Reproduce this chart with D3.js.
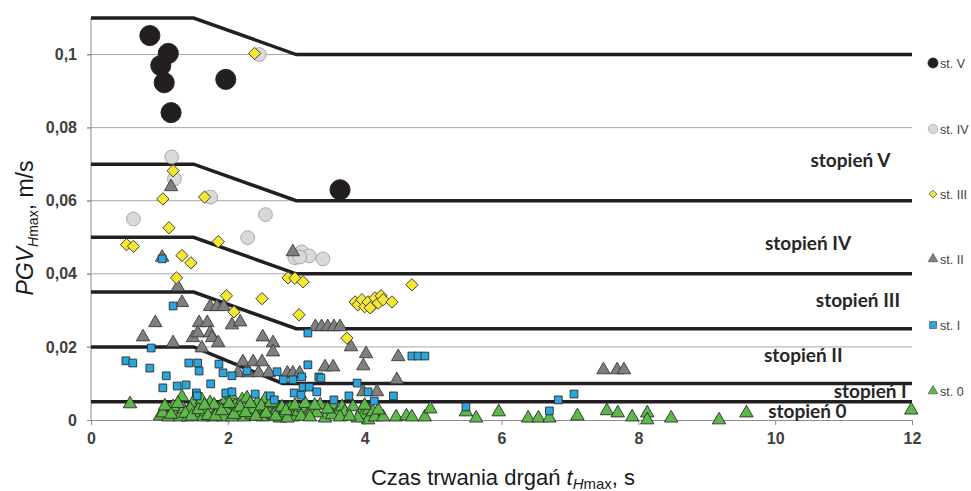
<!DOCTYPE html>
<html>
<head>
<meta charset="utf-8">
<script src="https://cdn.jsdelivr.net/npm/d3@7"></script>
<style>
  body { margin: 0; background: #fff; }
  svg { display: block; }
</style>
</head>
<body>
<svg id="root"></svg>
<script>
// axes
const xTicks = [0, 2, 4, 6, 8, 10, 12];
const yTicks = [0, 0.02, 0.04, 0.06, 0.08, 0.1];

// boundary lines between classes (t, PGV)
const limitLines = [
  [[0, 0.11], [1.5, 0.11], [3, 0.1], [12, 0.1]],
  [[0, 0.07], [1.5, 0.07], [3, 0.06], [12, 0.06]],
  [[0, 0.05], [1.5, 0.05], [3, 0.04], [12, 0.04]],
  [[0, 0.035], [1.5, 0.035], [3, 0.025], [12, 0.025]],
  [[0, 0.02], [1.5, 0.02], [2.8, 0.01], [12, 0.01]],
  [[0, 0.005], [12, 0.005]]
];

const zoneNames = ["stopień V", "stopień IV", "stopień III", "stopień II", "stopień I", "stopień 0"];
const zoneLabelAt = [[11.1, 0.0692], [10.48, 0.0466], [11.21, 0.031], [10.41, 0.0159], [11.39, 0.006], [10.47, 0.0005]];

const legendNames = ["st. V", "st. IV", "st. III", "st. II", "st. I", "st. 0"];

// st. V
const st5 = [[0.86, 0.1052], [1.13, 0.1003], [1.02, 0.097], [1.07, 0.0923], [1.17, 0.0841], [1.97, 0.0932], [3.64, 0.063]];

// st. IV
const st4 = [[2.46, 0.1], [1.18, 0.072], [1.22, 0.066], [1.75, 0.061], [0.62, 0.055], [2.55, 0.0562],
  [2.29, 0.0499], [3.08, 0.046], [2.98, 0.0444], [3.19, 0.0449], [3.39, 0.0441], [3.05, 0.0446]];

// st. III
const st3 = [[2.39, 0.1003], [1.2, 0.0682], [1.05, 0.0605], [1.66, 0.061], [1.14, 0.0526],
  [0.52, 0.048], [0.62, 0.0475], [1.86, 0.0488], [1.33, 0.045], [1.46, 0.043], [1.25, 0.0389],
  [1.98, 0.034], [2.5, 0.0332], [2.88, 0.0389], [2.98, 0.0388], [3.1, 0.0378], [3.04, 0.0288],
  [2.09, 0.0296], [3.74, 0.0224], [4.69, 0.037],
  [3.86, 0.0323], [3.9, 0.0315], [3.96, 0.0329], [4.0, 0.031], [4.05, 0.0323], [4.11, 0.0312],
  [4.15, 0.0334], [4.2, 0.032], [4.24, 0.034], [4.27, 0.0329], [4.4, 0.0323], [4.08, 0.0307]];

// st. II
const st2 = [[1.17, 0.0638], [1.04, 0.0445], [2.95, 0.046], [1.27, 0.0364], [1.33, 0.0321],
  [0.94, 0.0266], [0.76, 0.0227], [1.2, 0.0211], [1.49, 0.0225], [1.58, 0.0266], [1.7, 0.0266],
  [1.56, 0.0238], [1.74, 0.0238], [1.77, 0.0225], [1.62, 0.0197], [1.86, 0.0211],
  [1.74, 0.031], [1.84, 0.031], [1.94, 0.031], [2.06, 0.026], [2.18, 0.0268],
  [2.51, 0.0227], [2.66, 0.0211], [2.66, 0.0186], [2.22, 0.0159], [2.37, 0.0159], [2.5, 0.0159],
  [3.42, 0.0145], [3.54, 0.0145], [3.28, 0.0255], [3.37, 0.0255], [3.46, 0.0255], [3.55, 0.0255], [3.64, 0.0255],
  [3.8, 0.02], [4.02, 0.0181], [3.98, 0.0148], [4.49, 0.0173], [4.47, 0.011],
  [3.98, 0.0077], [4.18, 0.0077], [7.49, 0.0137], [7.69, 0.0137], [7.79, 0.0137],
  [2.15, 0.0129], [2.3, 0.0129], [2.45, 0.0129], [2.6, 0.0129], [2.87, 0.0128], [2.95, 0.0128], [3.05, 0.0128]];

// st. I
const st1 = [[0.51, 0.0162], [0.61, 0.0156], [0.86, 0.0142], [0.88, 0.0197], [1.2, 0.0312], [1.1, 0.0121],
  [1.05, 0.0088], [1.26, 0.0093], [1.39, 0.0096], [1.43, 0.0156], [1.56, 0.0156], [1.58, 0.0134],
  [1.54, 0.0074], [1.55, 0.0066], [1.75, 0.0099], [1.87, 0.0153], [1.93, 0.0129], [2.06, 0.0121],
  [2.28, 0.0134], [1.97, 0.0074], [2.06, 0.0077], [2.4, 0.0071], [2.62, 0.0066], [2.68, 0.0055],
  [2.72, 0.0132], [2.81, 0.011], [2.95, 0.011], [3.08, 0.0118], [3.17, 0.0151], [3.33, 0.0118],
  [3.17, 0.0238], [2.97, 0.0074], [3.07, 0.0068], [3.1, 0.009], [3.19, 0.009], [3.3, 0.0077],
  [3.89, 0.0101], [4.42, 0.0066], [4.69, 0.0175], [4.78, 0.0175], [4.88, 0.0175], [3.77, 0.0066],
  [4.05, 0.0077], [4.14, 0.0052], [5.48, 0.0036], [3.55, 0.0055], [3.36, 0.0115], [6.83, 0.0055],
  [7.06, 0.0071], [6.7, 0.0025], [1.04, 0.0441]];

// st. 0
const st0 = [[0.57, 0.0044], [1.01, 0.0011], [1.11, 0.0027], [1.13, 0.0008], [1.23, 0.0022], [1.3, 0.0008],
  [1.33, 0.0063], [1.35, 0.003], [1.42, 0.0008], [1.49, 0.0047], [1.54, 0.0019], [1.59, 0.0036],
  [1.64, 0.0008], [1.68, 0.0022], [1.74, 0.0047], [1.78, 0.0008], [1.84, 0.0022], [1.89, 0.0036],
  [1.93, 0.0008], [1.97, 0.0055], [2.0, 0.0027], [2.06, 0.0008], [2.11, 0.0041], [2.15, 0.0022],
  [2.21, 0.0055], [2.24, 0.0008], [2.3, 0.0033], [2.35, 0.0014], [2.43, 0.0047], [2.46, 0.0022],
  [2.51, 0.0008], [2.59, 0.0033], [2.66, 0.0014], [2.72, 0.0027], [2.76, 0.0005], [2.82, 0.0019],
  [2.91, 0.0033], [2.95, 0.0008], [3.03, 0.0022], [3.1, 0.0033], [3.16, 0.0014], [3.23, 0.0027],
  [3.42, 0.0005], [3.54, 0.0041], [3.6, 0.0019], [3.67, 0.0036], [3.71, 0.0022], [3.83, 0.0036],
  [3.52, 0.0014], [3.64, 0.0008], [3.96, 0.0027], [3.98, 0.0014], [4.06, 0.0027], [4.05, 0.0],
  [4.12, 0.0022], [4.15, 0.0008], [4.27, 0.0008], [4.46, 0.0008], [4.61, 0.0011], [4.69, 0.0008],
  [4.88, 0.0008], [4.96, 0.003], [5.48, 0.0022], [5.63, 0.0005], [5.96, 0.0022], [6.39, 0.0005],
  [6.54, 0.0005], [6.7, 0.0005], [7.11, 0.0011], [7.54, 0.0025], [7.7, 0.0019], [7.91, 0.0008],
  [8.13, 0.0019], [8.13, 0.0], [8.48, 0.0005], [9.18, 0.0], [9.58, 0.0019], [11.99, 0.0027],
  [1.62, 0.0055], [2.05, 0.0068], [2.28, 0.006], [2.55, 0.0058], [1.8, 0.0041], [2.38, 0.003],
  [2.68, 0.0044], [2.87, 0.0005], [3.3, 0.0019], [1.45, 0.003], [1.2, 0.0036], [1.05, 0.0019],
  [3.35, 0.0041], [3.9, 0.0005], [4.2, 0.0027],
  [1.08, 0.0038], [1.17, 0.0015], [1.27, 0.0045], [1.38, 0.0018], [1.47, 0.001], [1.57, 0.0028],
  [1.66, 0.004], [1.71, 0.0012], [1.82, 0.001], [1.91, 0.0025], [2.02, 0.0045], [2.09, 0.0015],
  [2.18, 0.0035], [2.26, 0.002], [2.33, 0.0045], [2.41, 0.001], [2.49, 0.0038], [2.56, 0.0018],
  [2.63, 0.0048], [2.7, 0.001], [2.79, 0.0035], [2.85, 0.0025], [2.98, 0.004], [3.07, 0.001],
  [3.13, 0.0045], [3.2, 0.0008], [3.27, 0.004], [3.46, 0.003], [3.78, 0.001], [4.0, 0.004]];

(function () {
  const W = 971, H = 491;
  const svg = d3.select("#root").attr("width", W).attr("height", H);

  const x = d3.scaleLinear().domain([0, 12]).range([91, 912]);
  const y = d3.scaleLinear().domain([0, 0.11]).range([420, 18]);

  const pl = d3.formatLocale({ decimal: ",", thousands: " ", grouping: [3], currency: ["", ""] });
  const fmt = pl.format("~g");

  // gridlines
  svg.append("g").selectAll("line")
    .data(yTicks.slice(1))
    .enter().append("line")
    .attr("x1", x(0) - 4).attr("x2", x(12))
    .attr("y1", d => y(d)).attr("y2", d => y(d))
    .attr("stroke", "#a6a6a6").attr("stroke-width", 1);

  // y axis
  const yAxis = svg.append("g")
    .attr("transform", `translate(${x(0)},0)`)
    .call(d3.axisLeft(y).tickValues(yTicks).tickSize(4).tickPadding(10).tickFormat(fmt));
  yAxis.select(".domain").attr("d", `M0,${y(0.11)}V${y(0)}`).attr("stroke", "#8c8c8c");
  yAxis.selectAll(".tick line").attr("stroke", "#8c8c8c");
  yAxis.selectAll("text")
    .attr("font-family", "Liberation Sans, Arial, sans-serif")
    .attr("font-weight", "bold").attr("font-size", 16).attr("fill", "#404040");

  // x axis
  const xAxis = svg.append("g")
    .attr("transform", `translate(0,${y(0)})`)
    .call(d3.axisBottom(x).tickValues(xTicks).tickSize(5).tickSizeOuter(0).tickPadding(8).tickFormat(d3.format("d")));
  xAxis.select(".domain").attr("stroke", "#8c8c8c");
  xAxis.selectAll(".tick line").attr("stroke", "#8c8c8c");
  xAxis.selectAll("text")
    .attr("font-family", "Liberation Sans, Arial, sans-serif")
    .attr("font-weight", "bold").attr("font-size", 16).attr("fill", "#404040");

  // limit lines
  const line = d3.line().x(d => x(d[0])).y(d => y(d[1]));
  svg.append("g").selectAll("path")
    .data(limitLines)
    .enter().append("path")
    .attr("d", line)
    .attr("fill", "none")
    .attr("stroke", "#231f20")
    .attr("stroke-width", 3.5);

  // series styles
  const series = [
    { data: st4, type: d3.symbolCircle, size: 150, fill: "#d9d9d9", stroke: "#a0a0a0", rot: 0, lsize: 70 },
    { data: st0, type: d3.symbolTriangle, size: 78, fill: "#5db947", stroke: "#2b2b2b", rot: 0, lsize: 40 },
    { data: st2, type: d3.symbolTriangle, size: 78, fill: "#7f7f7f", stroke: "#3a3a3a", rot: 0, lsize: 40 },
    { data: st1, type: d3.symbolSquare, size: 60, fill: "#29a6de", stroke: "#2b2b2b", rot: 0, lsize: 50 },
    { data: st3, type: d3.symbolSquare, size: 76, fill: "#f4e830", stroke: "#3a3a3a", rot: 45, lsize: 32 },
    { data: st5, type: d3.symbolCircle, size: 320, fill: "#231f20", stroke: "#231f20", rot: 0, lsize: 80 }
  ];

  for (let s of series) {
    const sym = d3.symbol().type(s.type).size(s.size);
    svg.append("g").selectAll("path")
      .data(s.data)
      .enter().append("path")
      .attr("d", sym)
      .attr("transform", d => `translate(${x(d[0])},${y(d[1])}) rotate(${s.rot})`)
      .attr("fill", s.fill)
      .attr("stroke", s.stroke)
      .attr("stroke-width", 0.9);
  }

  // zone labels
  svg.append("g").selectAll("text")
    .data(zoneNames)
    .enter().append("text")
    .attr("x", (d, i) => x(zoneLabelAt[i][0]))
    .attr("y", (d, i) => y(zoneLabelAt[i][1]))
    .attr("text-anchor", "middle")
    .attr("font-family", "Lato, sans-serif")
    .attr("font-weight", "bold")
    .attr("font-size", 19)
    .attr("fill", "#262626")
    .text(d => d);

  // legend
  const legendOrder = [5, 0, 4, 2, 3, 1]; // V, IV, III, II, I, 0 -> index into series
  const legendY = [63, 129, 194, 259, 325, 391];
  const lg = svg.append("g");
  legendNames.forEach((name, i) => {
    const s = series[legendOrder[i]];
    lg.append("path")
      .attr("d", d3.symbol().type(s.type).size(s.lsize)())
      .attr("transform", `translate(933,${legendY[i]}) rotate(${s.rot})`)
      .attr("fill", s.fill)
      .attr("stroke", s === series[5] ? s.stroke : (s === series[0] ? "#a0a0a0" : "#555"))
      .attr("stroke-width", 0.7);
    lg.append("text")
      .attr("x", 940).attr("y", legendY[i] + 4.5)
      .attr("font-family", "Liberation Sans, Arial, sans-serif")
      .attr("font-size", 12.5)
      .attr("fill", "#404040")
      .text(name);
  });

  // y label
  const yl = svg.append("text")
    .attr("transform", "translate(33,228) rotate(-90)")
    .attr("text-anchor", "middle")
    .attr("font-family", "Liberation Sans, Arial, sans-serif")
    .attr("font-size", 23)
    .attr("fill", "#1a1a1a");
  yl.append("tspan").attr("font-style", "italic").text("PGV");
  yl.append("tspan").attr("font-style", "italic").attr("font-size", 14).attr("dy", 5).text("H");
  yl.append("tspan").attr("font-size", 14).text("max");
  yl.append("tspan").attr("dy", -5).text(", m/s");

  // x label
  const xl = svg.append("text")
    .attr("x", 503).attr("y", 485)
    .attr("text-anchor", "middle")
    .attr("font-family", "Liberation Sans, Arial, sans-serif")
    .attr("font-size", 22)
    .attr("fill", "#1a1a1a");
  xl.append("tspan").text("Czas trwania drgań ");
  xl.append("tspan").attr("font-style", "italic").text("t");
  xl.append("tspan").attr("font-style", "italic").attr("font-size", 15).attr("dy", 4).text("H");
  xl.append("tspan").attr("font-size", 15).text("max");
  xl.append("tspan").attr("dy", -4).text(", s");
})();
</script>
</body>
</html>
